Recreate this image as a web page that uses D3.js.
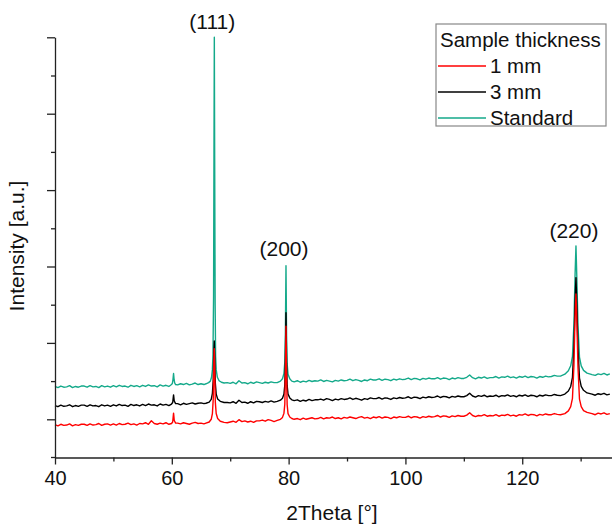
<!DOCTYPE html>
<html>
<head>
<meta charset="utf-8">
<script src="https://cdn.jsdelivr.net/npm/d3@7"></script>
<style>
  body { margin: 0; background: #fff; }
  text { font-family: "Liberation Sans", Arial, sans-serif; fill: #111; }
</style>
</head>
<body>
<div id="chart"></div>
<script>
// 2theta grid for the background part of each pattern
const gridStart = 40, gridStep = 0.5

const red_base = [
  -14,-17,-13,-16,-15,-12,-17,-14,-16,-13,
  -13,-16,-12,-15,-14,-11,-16,-13,-12,-15,
  -12,-15,-11,-14,-13,-10,-14,-12,-15,-11,
  -12,-9,-13,-4,-11,-13,-10,-12,-9,-13,
  -11,-11,-10,-12,-9,-11,-13,-10,-8,-11,
  -10,-12,-9,-10,-10,-10,-10,-10,-10,-9,
  -7,-5,-8,-1,-6,-4,-7,-5,-8,-4,
  -4,-2,-5,-1,-3,-6,-2,-4,-3,-3,
  0,0,0,2,-1,3,0,2,4,1,
  2,5,1,4,3,6,2,4,1,5,
  3,6,4,2,5,7,3,5,2,6,
  4,7,3,6,5,2,6,4,7,5,
  5,8,4,7,6,3,7,5,8,6,
  7,10,6,9,8,5,9,7,10,8,
  8,11,17,10,7,10,9,12,8,10,
  9,12,8,11,10,13,9,11,8,12,
  11,14,10,13,12,9,13,11,14,12,
  12,15,13,13,13,13,13,13,13,13,
  14,14,14,14,15,12,16,14,17,13,
  15
]
const black_base = [
  36,33,37,34,35,38,33,36,34,37,
  37,34,38,35,36,33,38,35,37,34,
  38,35,39,36,37,34,39,36,38,35,
  39,36,40,37,38,35,40,37,39,36,
  40,40,41,38,42,39,41,43,40,42,
  43,41,42,42,42,42,42,42,42,44,
  43,46,42,50,44,45,42,46,43,47,
  46,44,47,45,48,45,47,47,47,47,
  48,48,48,51,47,50,48,52,49,51,
  51,53,50,54,52,49,53,51,54,52,
  53,56,52,55,53,50,54,52,56,54,
  54,57,53,56,55,52,56,54,57,55,
  56,59,55,58,57,54,58,56,59,57,
  58,61,57,60,59,56,60,58,61,59,
  59,62,68,61,58,62,60,63,59,61,
  60,63,59,62,61,64,60,62,59,63,
  61,64,60,63,62,59,63,61,64,62,
  62,65,63,63,63,63,63,63,63,63,
  65,65,65,65,66,63,67,65,68,64,
  66
]
const green_base = [
  86,83,87,84,85,88,83,86,84,87,
  87,84,88,85,86,83,88,85,87,84,
  88,85,89,86,87,84,89,86,88,85,
  89,86,90,87,88,85,90,87,89,86,
  91,91,90,93,91,94,90,92,95,91,
  93,91,93,93,93,93,93,93,93,96,
  94,97,93,101,95,96,93,97,94,98,
  96,94,97,95,98,96,96,96,96,96,
  98,98,98,101,97,100,98,102,99,101,
  100,103,99,102,100,98,102,100,103,101,
  102,105,101,104,102,99,103,101,105,103,
  103,106,102,105,104,101,105,103,106,104,
  105,108,104,107,106,103,107,105,108,106,
  106,109,105,108,107,104,108,106,109,107,
  107,110,116,109,106,110,108,111,107,109,
  109,112,108,111,110,113,109,111,108,112,
  110,113,109,112,111,108,112,110,113,111,
  112,115,113,113,113,113,113,113,113,113,
  117,117,117,117,118,115,119,117,120,116,
  119
]

// reflections: [2theta, intensity] read around each peak
const peakWindows = [[59.9, 60.7], [65.8, 69.0], [78.0, 81.0], [126.5, 132.0]]

const red_peaks = [
  [59.95,-11],[60.15,-7],[60.3,16],[60.42,-3],[60.65,-10],
  [65.85,-10],[66.4,-7],[66.75,0],[66.95,15],[67.1,55],[67.2,150],[67.27,185],[67.34,130],[67.45,45],[67.6,15],[67.85,2],[68.3,-5],[68.95,-8],
  [78.05,-3],[78.6,0],[78.95,5],[79.2,16],[79.35,40],[79.45,120],[79.55,244],[79.65,110],[79.75,38],[79.9,15],[80.2,6],[80.55,2],[80.95,0],
  [126.55,12],[127.3,15],[127.9,22],[128.3,33],[128.6,55],[128.85,140],[129.05,270],[129.2,328],[129.35,255],[129.55,135],[129.8,53],[130.1,33],[130.5,23],[131.1,18],[131.95,15]
]
const black_peaks = [
  [59.95,40],[60.15,44],[60.3,64],[60.42,48],[60.65,41],
  [65.85,42],[66.4,45],[66.75,52],[66.95,68],[67.1,105],[67.2,180],[67.27,205],[67.34,170],[67.45,95],[67.6,66],[67.85,53],[68.3,47],[68.95,44],
  [78.05,47],[78.6,50],[78.95,55],[79.2,66],[79.35,90],[79.45,160],[79.55,279],[79.65,150],[79.75,88],[79.9,66],[80.2,56],[80.55,51],[80.95,49],
  [126.55,62],[127.3,66],[127.9,74],[128.3,86],[128.6,110],[128.85,190],[129.05,310],[129.2,371],[129.35,300],[129.55,185],[129.8,108],[130.1,86],[130.5,76],[131.1,69],[131.95,66]
]
const green_peaks = [
  [59.95,91],[60.1,94],[60.2,104],[60.3,120],[60.4,103],[60.5,95],[60.65,91],
  [65.85,93],[66.3,96],[66.6,100],[66.8,110],[66.95,130],[67.05,170],[67.15,320],[67.22,700],[67.28,1000],[67.34,680],[67.42,300],[67.5,165],[67.6,130],[67.8,110],[68.1,101],[68.5,97],[68.95,95],
  [78.05,96],[78.6,100],[78.95,106],[79.2,120],[79.35,150],[79.45,230],[79.55,402],[79.65,220],[79.75,145],[79.9,118],[80.2,106],[80.55,100],[80.95,98],
  [126.55,113],[127.3,118],[127.9,127],[128.3,140],[128.6,165],[128.85,250],[129.05,380],[129.2,454],[129.35,370],[129.55,245],[129.8,163],[130.1,140],[130.5,128],[131.1,121],[131.95,117]
]

const series = [
  { name: "Standard", color: "#14a98a", base: green_base, peaks: green_peaks },
  { name: "3 mm", color: "#000000", base: black_base, peaks: black_peaks },
  { name: "1 mm", color: "#ff0000", base: red_base, peaks: red_peaks }
]
const legendItems = ["1 mm", "3 mm", "Standard"]
const peakLabels = [
  { text: "(111)", x: 67.28, y: 1000 },
  { text: "(200)", x: 79.55, y: 402 },
  { text: "(220)", x: 129.2, y: 454 }
]
const xTicks = [40, 60, 80, 100, 120]
const xMinor = [50, 70, 90, 110, 130]
const yMajor = [0, 200, 400, 600, 800, 1000]
const yMinor = [100, 300, 500, 700, 900]

const width = 612, height = 527
const margin = { top: 37.3, left: 55, bottom: 69.5 }

const svg = d3.select("#chart").append("svg")
  .attr("width", width).attr("height", height)

const xScale = d3.scaleLinear().domain([40, 135.37]).range([margin.left, width])
const yScale = d3.scaleLinear().domain([-100, 1000]).range([height - margin.bottom, margin.top])

function buildPoints(s) {
  let pts = s.base.map((v, i) => [gridStart + i * gridStep, v])
    .filter(p => !peakWindows.some(w => p[0] >= w[0] && p[0] <= w[1]))
  pts = pts.concat(s.peaks)
  pts.sort((a, b) => a[0] - b[0])
  return pts
}

const line = d3.line().x(d => xScale(d[0])).y(d => yScale(d[1]))

svg.append("g").selectAll("path")
  .data(series)
  .enter().append("path")
  .attr("d", d => line(buildPoints(d)))
  .attr("fill", "none")
  .attr("stroke", d => d.color)
  .attr("stroke-width", 1.4)
  .attr("stroke-linejoin", "round")

// axes
const axisColor = "#222"
const yAxisG = svg.append("g").attr("transform", `translate(${margin.left},0)`)
yAxisG.call(d3.axisLeft(yScale).tickValues(yMajor).tickSize(8).tickSizeOuter(0).tickFormat(""))
yAxisG.append("g").call(d3.axisLeft(yScale).tickValues(yMinor).tickSize(4).tickSizeOuter(0).tickFormat(""))
  .select(".domain").remove()

const xAxisG = svg.append("g").attr("transform", `translate(0,${yScale(-100)})`)
xAxisG.call(d3.axisBottom(xScale).tickValues(xTicks).tickSize(7).tickSizeOuter(0).tickPadding(6))
xAxisG.append("g").call(d3.axisBottom(xScale).tickValues(xMinor).tickSize(4).tickSizeOuter(0).tickFormat(""))
  .select(".domain").remove()
// axis line reaches a little left of the y axis, like the reference
xAxisG.append("line").attr("x1", margin.left - 4).attr("x2", margin.left).attr("stroke", axisColor).attr("stroke-width", 1.3)

svg.selectAll(".domain, .tick line").attr("stroke", axisColor).attr("stroke-width", 1.3)
xAxisG.selectAll(".tick text")
  .style("font-size", "20px")
  .style("font-family", "Liberation Sans, Arial, sans-serif")
  .attr("fill", "#111")

// axis titles
svg.append("text")
  .attr("x", 332).attr("y", 520)
  .attr("text-anchor", "middle")
  .style("font-size", "21px")
  .text("2Theta [°]")

svg.append("text")
  .attr("transform", `translate(24,246) rotate(-90)`)
  .attr("text-anchor", "middle")
  .style("font-size", "21px")
  .text("Intensity [a.u.]")

// peak labels
const labelY = { "(111)": 29, "(200)": 256, "(220)": 238 }
svg.selectAll(".plabel")
  .data(peakLabels)
  .enter().append("text")
  .attr("class", "plabel")
  .attr("x", d => xScale(d.x) - 2)
  .attr("y", d => labelY[d.text])
  .attr("text-anchor", "middle")
  .style("font-size", "21px")
  .text(d => d.text)

// legend
const legend = svg.append("g")
legend.append("rect")
  .attr("x", 436).attr("y", 24).attr("width", 170).attr("height", 102)
  .attr("fill", "#fff").attr("stroke", "#888").attr("stroke-width", 1.2)
legend.append("text").attr("x", 440).attr("y", 47).style("font-size", "20.5px").text("Sample thickness")
const colorOf = name => series.find(s => s.name === name).color
legendItems.forEach((name, i) => {
  const by = 73 + i * 26
  legend.append("line")
    .attr("x1", 438).attr("x2", 486).attr("y1", by - 7).attr("y2", by - 7)
    .attr("stroke", colorOf(name)).attr("stroke-width", 1.4)
  legend.append("text").attr("x", 490).attr("y", by).style("font-size", "20.5px").text(name)
})
</script>
</body>
</html>
